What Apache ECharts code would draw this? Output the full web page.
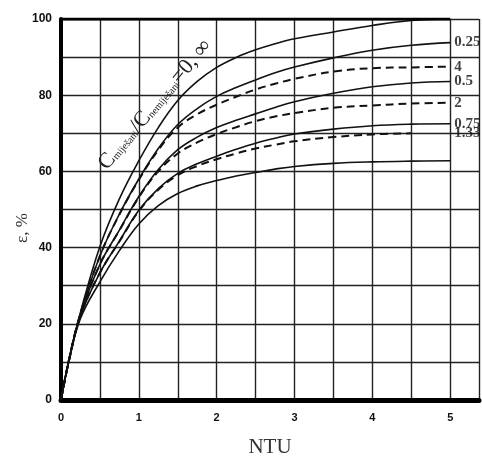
<!DOCTYPE html>
<html>
<head>
<meta charset="utf-8">
<script src="https://cdn.jsdelivr.net/npm/echarts@6/dist/echarts.min.js"></script>
<style>
html,body{margin:0;padding:0;background:#fff;}
#c{width:482px;height:463px;}
</style>
</head>
<body>
<div id="c"></div>
<script>
// NTU sample points
const ntu = [0, 0.1, 0.25, 0.5, 0.75, 1, 1.25, 1.5, 1.75, 2, 2.25, 2.5, 2.75, 3, 3.5, 4, 4.5, 5];
// effectiveness (%) for each capacity ratio C_mixed/C_unmixed
const cr0   = [0, 10.5, 23.0, 40.3, 52.8, 62.8, 71.5, 78.6, 83.6, 87.3, 89.9, 91.9, 93.5, 94.8, 96.6, 98.3, 99.6, 100];
const cr025 = [0, 10.3, 22.7, 37.8, 48.8, 58.0, 66.0, 72.3, 76.5, 79.7, 82.0, 84.0, 85.9, 87.4, 89.8, 91.8, 93.1, 93.8];
const cr4   = [0, 10.3, 22.7, 37.8, 48.7, 57.8, 65.6, 71.5, 75.0, 77.5, 79.6, 81.5, 83.0, 84.3, 86.2, 87.1, 87.3, 87.5];
const cr05  = [0, 10.2, 22.4, 35.6, 44.6, 53.4, 60.5, 65.7, 69.0, 71.5, 73.4, 75.1, 76.8, 78.3, 80.5, 82.2, 83.2, 83.6];
const cr2   = [0, 10.2, 22.4, 35.6, 44.5, 53.2, 60.0, 64.7, 67.6, 69.8, 71.6, 73.2, 74.4, 75.3, 76.7, 77.3, 77.8, 78.0];
const cr075 = [0, 10.1, 22.1, 33.4, 41.7, 49.8, 55.5, 59.5, 62.0, 64.0, 65.8, 67.4, 68.7, 69.8, 71.1, 72.0, 72.4, 72.5];
const cr133 = [0, 10.1, 22.1, 33.4, 41.6, 49.6, 55.2, 59.0, 61.4, 63.2, 64.7, 66.0, 67.0, 67.9, 69.0, 69.7, 70.0, null];
const cr1   = [0, 10.0, 21.4, 31.0, 39.2, 46.2, 51.0, 54.2, 56.2, 57.6, 58.8, 59.7, 60.6, 61.3, 62.1, 62.5, 62.7, 62.8];
// right-hand curve labels
const endNames  = ['0.25', '4', '0.5', '2', '0.75', '1.33'];
const endValues = [93.8, 87.5, 83.6, 78.0, 72.5, 70.0];
const endX = 5;
// axis ticks
const yLabelsShown = [0, 20, 40, 60, 80, 100];
const xLabelsShown = [0, 1, 2, 3, 4, 5];
const topBorder = [[0, 100], [5, 100]];

function pairs(vals) {
  const out = [];
  for (let i = 0; i < ntu.length; i++) if (vals[i] !== null) out.push([ntu[i], vals[i]]);
  return out;
}
function curve(vals, dashed) {
  return {
    type: 'line', data: pairs(vals), showSymbol: false, symbol: 'none',
    smooth: 0.4, silent: true, z: 5,
    lineStyle: { color: '#111', width: dashed ? 2 : 1.6, type: dashed ? [8, 5] : 'solid' }
  };
}

const chart = echarts.init(document.getElementById('c'), null, { renderer: 'canvas' });
chart.setOption({
  animation: false,
  backgroundColor: '#fff',
  grid: { left: 61, right: 0, top: 19, bottom: 56, containLabel: false },
  xAxis: {
    type: 'value', min: 0, max: 5.37, interval: 0.5,
    axisLine: { show: true, onZero: false, lineStyle: { color: '#000', width: 5 } },
    axisTick: { show: false },
    splitLine: { show: true, lineStyle: { color: '#222', width: 1.4 } },
    axisLabel: {
      margin: 12, color: '#111', fontWeight: 'bold', fontSize: 11, fontFamily: 'Liberation Sans',
      formatter: v => xLabelsShown.indexOf(v) >= 0 ? String(v) : ''
    },
    name: 'NTU', nameLocation: 'middle', nameGap: 37,
    nameTextStyle: { fontFamily: 'Liberation Serif', fontSize: 21, color: '#333' }
  },
  yAxis: {
    type: 'value', min: 0, max: 100, interval: 10,
    axisLine: { show: true, onZero: false, lineStyle: { color: '#000', width: 4 } },
    axisTick: { show: false },
    splitLine: { show: true, lineStyle: { color: '#222', width: 1.4 } },
    axisLabel: {
      margin: 9, color: '#111', fontWeight: 'bold', fontSize: 12, fontFamily: 'Liberation Sans',
      formatter: v => yLabelsShown.indexOf(v) >= 0 ? String(v) : ''
    }
  },
  graphic: [
    {
      type: 'text', x: 23, y: 228, rotation: Math.PI / 2,
      style: { text: 'ε, %', font: '17px "Liberation Serif"', fill: '#333', align: 'center', verticalAlign: 'middle' }
    },
    {
      type: 'text', x: 112, y: 175, rotation: 0.87,
      style: {
        text: '{c|C}{s|miješani}{c|/C}{s|nemiješani}{c|=0, ∞}',
        align: 'left', verticalAlign: 'bottom',
        rich: {
          c: { fontFamily: 'Liberation Serif', fontSize: 22, fill: '#222', verticalAlign: 'bottom', height: 25 },
          s: { fontFamily: 'Liberation Serif', fontSize: 10, fill: '#222', verticalAlign: 'bottom', height: 17 }
        }
      }
    }
  ],
  series: [
    {
      type: 'line', data: topBorder, showSymbol: false, symbol: 'none', silent: true, z: 6,
      lineStyle: { color: '#000', width: 3 }
    },
    curve(cr0, false),
    curve(cr025, false),
    curve(cr4, true),
    curve(cr05, false),
    curve(cr2, true),
    curve(cr075, false),
    curve(cr133, true),
    curve(cr1, false),
    {
      type: 'scatter', symbolSize: 0, silent: true, z: 7,
      data: endNames.map((n, i) => ({ name: n, value: [endX, endValues[i]] })),
      label: {
        show: true, position: 'right', distance: 4, formatter: p => p.name,
        fontFamily: 'Liberation Serif', fontWeight: 'bold', fontSize: 15, color: '#111'
      }
    }
  ]
});
</script>
</body>
</html>
